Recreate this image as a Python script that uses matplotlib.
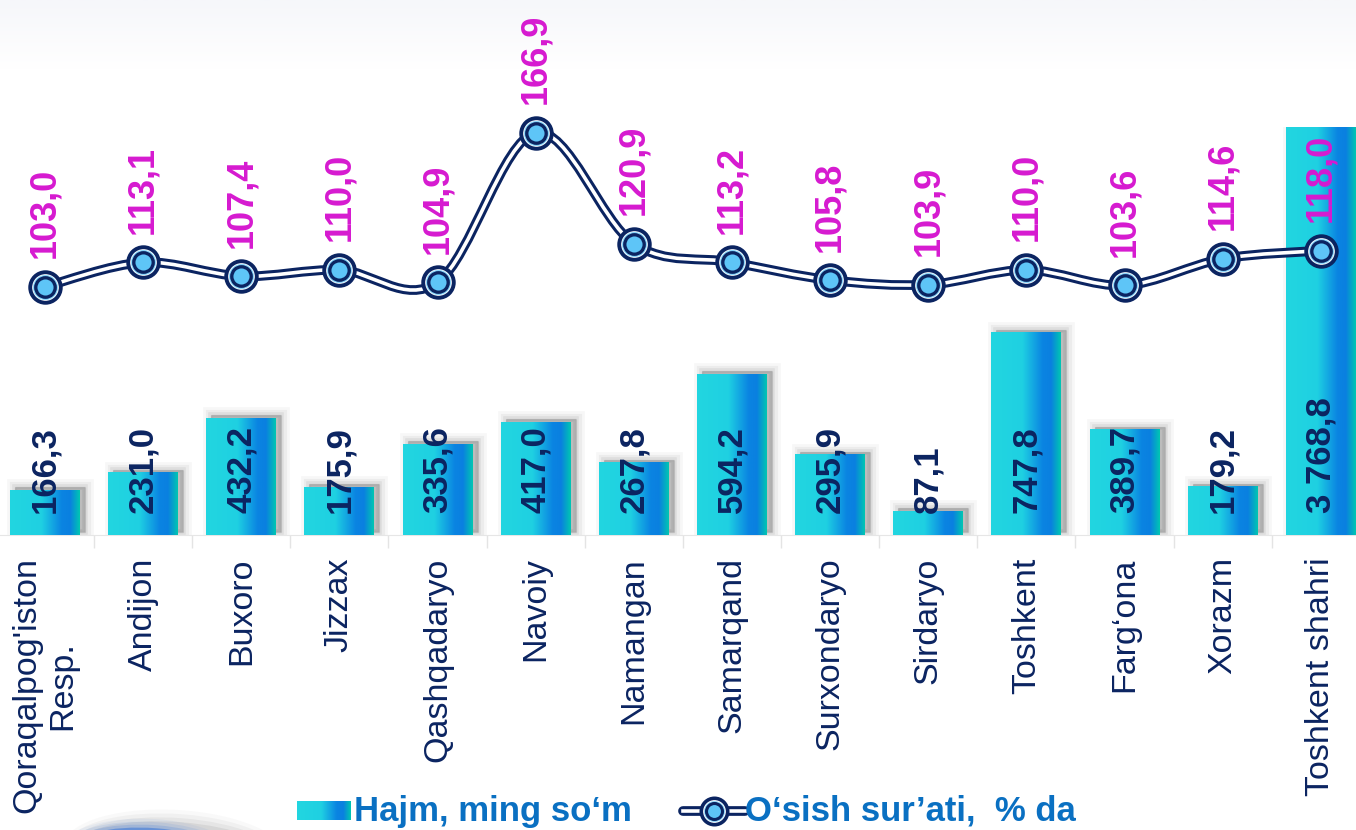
import numpy as np
import matplotlib.pyplot as plt
import matplotlib.transforms as mtransforms
from matplotlib.colors import LinearSegmentedColormap
from matplotlib.path import Path
from matplotlib.patches import PathPatch, Ellipse
from matplotlib.lines import Line2D

plt.rcParams['font.family'] = ['Liberation Sans', 'DejaVu Sans']

regions = ["Qoraqalpog'iston\nResp.", "Andijon", "Buxoro", "Jizzax", "Qashqadaryo",
           "Navoiy", "Namangan", "Samarqand", "Surxondaryo", "Sirdaryo", "Toshkent",
           "Farg\u2018ona", "Xorazm", "Toshkent shahri"]
volume = [166.3, 231.0, 432.2, 175.9, 335.6, 417.0, 267.8, 594.2, 295.9, 87.1,
          747.8, 389.7, 179.2, 3768.8]
growth = [103.0, 113.1, 107.4, 110.0, 104.9, 166.9, 120.9, 113.2, 105.8, 103.9,
          110.0, 103.6, 114.6, 118.0]
legend_labels = ["Hajm, ming so\u2018m", "O\u2018sish sur\u2019ati,  % da"]

NAVY = '#0b2461'
MAGENTA = '#d61ad0'
LEG_BLUE = '#0a70c2'
bar_cmap = LinearSegmentedColormap.from_list(
    'bar', [(0, '#22d6e0'), (0.45, '#1fd0e2'), (0.74, '#0a84e2'),
            (0.86, '#0a80e0'), (1, '#00c6b2')])


def fmt(v):
    return f"{v:,.1f}".replace(",", " ").replace(".", ",")


def smooth_path(xs, ys):
    # excel-like smoothed line as cubic bezier segments
    pts = np.column_stack([xs, ys]).astype(float)
    verts = [pts[0]]
    codes = [Path.MOVETO]
    n = len(pts)
    for i in range(n - 1):
        p0 = pts[max(i - 1, 0)]
        p1 = pts[i]
        p2 = pts[i + 1]
        p3 = pts[min(i + 2, n - 1)]
        verts += [p1 + (p2 - p0) / 6, p2 - (p3 - p1) / 6, p2]
        codes += [Path.CURVE4] * 3
    return Path(verts, codes)


W, H = 1356, 830
fig = plt.figure(figsize=(W / 100, H / 100), dpi=100)
x = np.arange(len(regions))
left, width = -4.1 / W, 1374 / W

# faint band at the top
bg = fig.add_axes([0, 1 - 70 / H, 1, 70 / H], zorder=-5)
bg.imshow(np.linspace(1, 0, 60).reshape(-1, 1), aspect='auto',
          cmap=LinearSegmentedColormap.from_list('bg', ['#ffffff', '#f6f7fa']))
bg.axis('off')

# bars
ax = fig.add_axes([left, 1 - 535 / H, width, 408 / H])
ax.patch.set_alpha(0)
off = mtransforms.offset_copy(ax.transData, fig=fig, x=5, y=3, units='dots')
for lw, a in [(12, 0.03), (8, 0.045), (4, 0.06), (1, 0.08)]:
    ax.bar(x, volume, width=0.713, color=(0, 0, 0, a), edgecolor=(0, 0, 0, a),
           linewidth=lw, transform=off, zorder=2)
bars = ax.bar(x, volume, width=0.713, color='none', zorder=3)
grad = np.linspace(0, 1, 256).reshape(1, -1)
for b in bars:
    x0, w, h = b.get_x(), b.get_width(), b.get_height()
    im = ax.imshow(grad, cmap=bar_cmap, extent=(x0, x0 + w, 0, h),
                   aspect='auto', zorder=3)
    im.set_clip_path(b)
    im.set_clip_box(ax.bbox)

for xi, v in zip(x, volume):
    ax.annotate(fmt(v), (xi, 0), xytext=(0, 15.5), textcoords='offset points',
                rotation=90, ha='center', va='bottom', fontsize=25,
                fontweight='bold', color=NAVY, zorder=5, annotation_clip=False)

ax.set_xlim(-0.5, len(x) - 0.5)
ax.set_ylim(0, 1508)
ax.set_xticks(x)
ax.set_xticklabels(regions, rotation=90, fontsize=24.5, color=NAVY, va='top',
                   ha='center', multialignment='center')
ax.tick_params(axis='x', which='major', length=0, pad=16)
ax.set_xticks(x[:-1] + 0.5, minor=True)
ax.tick_params(axis='x', which='minor', length=9, color='#e4e4e4', width=1)
ax.set_yticks([])
for s in ['top', 'right', 'left']:
    ax.spines[s].set_visible(False)
ax.spines['bottom'].set_color('#e6e6e6')

# growth line
ax_l = fig.add_axes([left, 1 - 535 / H, width, 535 / H])
ax_l.patch.set_alpha(0)
ax_l.set_xlim(-0.5, len(x) - 0.5)
ax_l.set_ylim(0, 222)
ax_l.axis('off')
path = smooth_path(x, growth)
ax_l.add_patch(PathPatch(path, fill=False, lw=7.0, edgecolor=NAVY,
                         capstyle='round', zorder=3))
ax_l.add_patch(PathPatch(path, fill=False, lw=2.6, edgecolor='white', zorder=4))
ax_l.plot(x, growth, 'o', ms=22, mfc='white', mec=NAVY, mew=2.8, zorder=5)
ax_l.plot(x, growth, 'o', ms=18, mfc='#86d6fb', mec='none', zorder=6)
ax_l.plot(x, growth, 'o', ms=14, mfc='#5ec5f7', mec=NAVY, mew=2.4, zorder=7)
for xi, g in zip(x, growth):
    ax_l.annotate(fmt(g), (xi, g), xytext=(0, 20.5), textcoords='offset points',
                  rotation=90, ha='center', va='bottom', fontsize=26,
                  fontweight='bold', color=MAGENTA, zorder=8,
                  annotation_clip=False)

# legend
ly = 1 - 811 / H
sq = fig.add_axes([297 / W, 1 - 820 / H, 53 / W, 19 / H])
sq.imshow(grad, cmap=bar_cmap, aspect='auto')
sq.axis('off')
fig.text(354 / W, ly, legend_labels[0], fontsize=25, fontweight='bold',
         color=LEG_BLUE, va='center', ha='left')
lx0, lx1 = 683 / W, 745 / W
fig.add_artist(Line2D([lx0, lx1], [ly, ly], lw=7.0, color=NAVY,
                      transform=fig.transFigure, solid_capstyle='round'))
fig.add_artist(Line2D([lx0, lx1], [ly, ly], lw=2.6, color='white',
                      transform=fig.transFigure))
for ms, fc, ec, mw in [(19, 'white', NAVY, 2.6), (15, '#86d6fb', 'none', 0),
                       (11.5, '#5ec5f7', NAVY, 2.2)]:
    fig.add_artist(Line2D([(lx0 + lx1) / 2], [ly], marker='o', ms=ms, mfc=fc,
                          mec=ec, mew=mw, transform=fig.transFigure))
fig.text(745 / W, ly, legend_labels[1], fontsize=25, fontweight='bold',
         color=LEG_BLUE, va='center', ha='left')

# blurred blue shape peeking in at the lower left corner
for k, a in enumerate([0.03, 0.05, 0.07, 0.1]):
    grow = (3 - k) * 8
    fig.add_artist(Ellipse((175 / W, 1 - 852 / H), (200 + grow) / W,
                           (60 + grow) / H, angle=-7, color='#555555', alpha=a,
                           transform=fig.transFigure, lw=0))
for k, a in enumerate([0.06, 0.1, 0.18, 0.5]):
    grow = (3 - k) * 6
    fig.add_artist(Ellipse((150 / W, 1 - 858 / H), (170 + grow) / W,
                           (60 + grow) / H, angle=-7, color='#2f6fd6', alpha=a,
                           transform=fig.transFigure, lw=0))

fig.savefig('out.png', dpi=100)
